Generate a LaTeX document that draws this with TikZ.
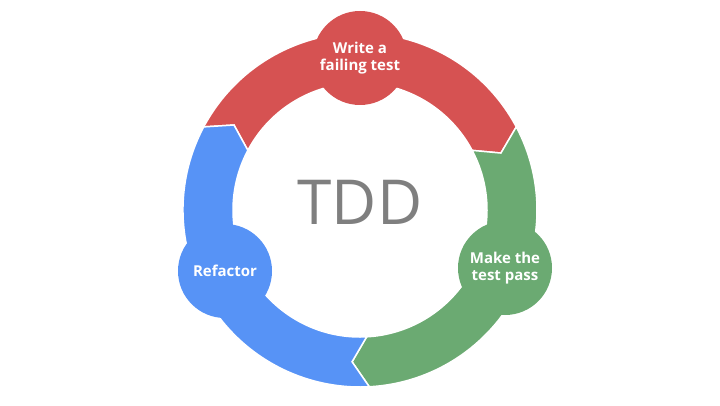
\documentclass[tikz,border=0pt]{standalone}
\usepackage{fontspec}
\setmainfont{Open Sans}
\definecolor{cred}{HTML}{D65252}
\definecolor{cgreen}{HTML}{6BAA72}
\definecolor{cblue}{HTML}{5793F6}
\definecolor{cgray}{HTML}{7F7F7F}
\tikzset{seg/.style={draw=white,line width=1.5pt},
bub/.style={circle,minimum size=94pt,inner sep=0pt,text=white,align=center,font=\fontsize{15}{17}\selectfont\bfseries}}
\newcommand{\segm}[3]{%
\fill[#3,seg] (#1:177pt) -- ({#1-6}:152pt) -- (#1:127pt)
 arc[start angle=#1,end angle=#2,radius=127pt] -- ({#2-6}:152pt) -- (#2:177pt)
 arc[start angle=#2,end angle=#1,radius=177pt] -- cycle;}
\begin{document}
\begin{tikzpicture}[x=1pt,y=1pt]
\useasboundingbox (0,0) rectangle (720,405);
\begin{scope}[shift={(360,195)}]
\segm{152}{28}{cred}
\segm{28}{-87}{cgreen}
\segm{273}{152}{cblue}
\node[bub,fill=cred] (w) at (0,152) {Write a\\failing test};
\node[bub,fill=cgreen] (m) at (145,-58) {Make the\\test pass};
\node[bub,fill=cblue] (r) at (-135,-61) {Refactor};
\node[text=cgray,font=\fontsize{62}{62}\selectfont] (t) at (0,8) {TDD};
\end{scope}
\end{tikzpicture}
\end{document}
